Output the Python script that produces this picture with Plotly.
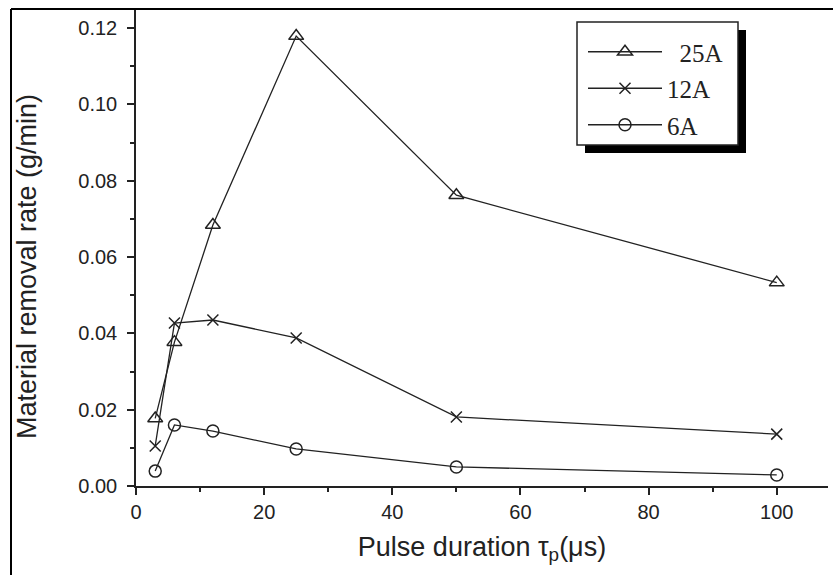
import plotly.graph_objects as go

pulse = [3, 6, 12, 25, 50, 100]
mrr_25A = [0.0177, 0.0377, 0.0684, 0.1179, 0.0762, 0.0533]
mrr_12A = [0.0105, 0.0427, 0.0435, 0.0388, 0.0181, 0.0136]
mrr_6A = [0.0039, 0.0160, 0.0144, 0.0097, 0.0050, 0.0029]
series = [("25A", mrr_25A, "triangle-up-open", 13),
          ("12A", mrr_12A, "x-thin-open", 11),
          ("6A", mrr_6A, "circle-open", 12)]
legend_text = ["  25A", "12A", "6A"]
y_title = "Material removal rate (g/min)"
x_title = "Pulse duration τ<sub>p</sub>(μs)"

W, H = 833, 575
L, R, T, B = 136, 5, 9, 89
pw, ph = W - L - R, H - T - B

def px(x):
    return (x - L) / pw

def py(y):
    return (H - B - y) / ph

fig = go.Figure()
for i, ((name, vals, sym, sz), lt) in enumerate(zip(series, legend_text)):
    fig.add_trace(go.Scatter(
        x=pulse, y=vals, mode="lines+markers", name=lt,
        legendgroup="g%d" % i,
        line=dict(color="#222", width=1.3),
        marker=dict(symbol=sym, size=sz, color="#222",
                    line=dict(color="#222", width=1.5)),
    ))

shapes = []
# outer frame (left and top)
shapes.append(dict(type="line", xref="paper", yref="paper",
                   x0=px(11), x1=px(11), y0=py(9), y1=py(575),
                   line=dict(color="black", width=2)))
shapes.append(dict(type="line", xref="paper", yref="paper",
                   x0=px(11), x1=px(833), y0=py(9), y1=py(9),
                   line=dict(color="black", width=2)))
# legend shadow and box
shapes.append(dict(type="rect", xref="paper", yref="paper",
                   x0=px(585), x1=px(746), y0=py(153), y1=py(30),
                   fillcolor="black", line=dict(width=0), layer="above"))
shapes.append(dict(type="rect", xref="paper", yref="paper",
                   x0=px(577), x1=px(738), y0=py(145), y1=py(22),
                   fillcolor="white", line=dict(color="#222", width=1.5),
                   layer="above"))

annotations = [dict(text=y_title, xref="paper", yref="paper",
                    x=px(27), y=py(267), xanchor="center", yanchor="middle",
                    textangle=-90, showarrow=False,
                    font=dict(size=27, color="#222"))]

fig.update_layout(
    width=W, height=H,
    margin=dict(l=L, r=R, t=T, b=B),
    paper_bgcolor="white", plot_bgcolor="white",
    font=dict(family="Liberation Sans, Arial, sans-serif", color="#222"),
    shapes=shapes,
    annotations=annotations,
    showlegend=True,
    legend=dict(x=px(583), y=py(29), xanchor="left", yanchor="top",
                bgcolor="rgba(0,0,0,0)", borderwidth=0,
                font=dict(family="Liberation Serif, Times New Roman, serif",
                          size=25, color="#222"),
                itemwidth=74, tracegroupgap=1, traceorder="grouped"),
    xaxis=dict(range=[0, 108], tickmode="linear", tick0=0, dtick=20,
               showgrid=False, zeroline=False, showline=True,
               linecolor="#222", linewidth=1.5,
               ticks="outside", ticklen=7, tickwidth=1.5, tickcolor="#222",
               minor=dict(dtick=10, ticks="outside", ticklen=4, tickcolor="#222"),
               tickfont=dict(size=20), automargin=False,
               title=dict(text=x_title, font=dict(size=27), standoff=15)),
    yaxis=dict(range=[0, 0.125], tickmode="linear", tick0=0, dtick=0.02,
               tickformat=".2f",
               showgrid=False, zeroline=False, showline=True,
               linecolor="#222", linewidth=1.5,
               ticks="outside", ticklen=7, tickwidth=1.5, tickcolor="#222",
               minor=dict(dtick=0.01, ticks="outside", ticklen=4, tickcolor="#222"),
               tickfont=dict(size=20), ticklabelstandoff=6, automargin=False),
)

fig.write_html("out.html")
